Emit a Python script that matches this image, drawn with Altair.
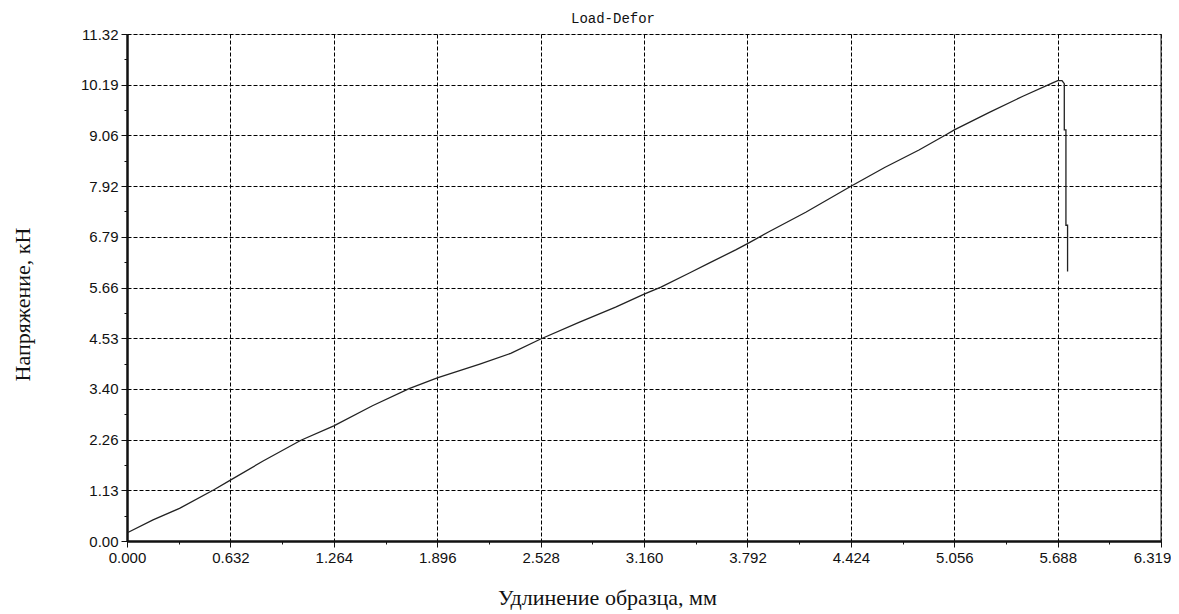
import altair as alt
import pandas as pd

# Curve (elongation, mm / load, kN)
x_mm = [0.005, 0.159, 0.321, 0.534, 0.632, 0.829, 1.063, 1.264, 1.500, 1.724,
        1.896, 2.156, 2.345, 2.528, 2.762, 2.986, 3.160, 3.263, 3.440, 3.560,
        3.720, 3.792, 3.920, 4.148, 4.424, 4.630, 4.840, 5.005, 5.056, 5.270,
        5.475, 5.657, 5.688, 5.714, 5.728, 5.728, 5.738, 5.738, 5.748, 5.748]
y_kn = [0.19, 0.47, 0.73, 1.15, 1.36, 1.78, 2.25, 2.57, 3.02, 3.40,
        3.64, 3.95, 4.19, 4.51, 4.88, 5.22, 5.51, 5.67, 5.99, 6.21,
        6.50, 6.64, 6.90, 7.34, 7.92, 8.34, 8.73, 9.07, 9.18, 9.57,
        9.93, 10.23, 10.28, 10.28, 10.21, 9.18, 9.18, 7.05, 7.05, 6.02]

x_ticks = [0.0, 0.632, 1.264, 1.896, 2.528, 3.160, 3.792, 4.424, 5.056, 5.688, 6.319]
y_ticks = [0.0, 1.132, 2.264, 3.396, 4.528, 5.66, 6.792, 7.924, 9.056, 10.188, 11.32]

chart_title = "Load-Defor"

x_minor = [(a + b) / 2 for a, b in zip(x_ticks[:-1], x_ticks[1:])]
y_minor = [(a + b) / 2 for a, b in zip(y_ticks[:-1], y_ticks[1:])]

df = pd.DataFrame({"x": x_mm, "y": y_kn, "i": list(range(len(x_mm)))})

X_MINOR = "round(datum.value/0.316) % 2 == 1"
Y_MINOR = "round(datum.value/0.566) % 2 == 1"

x_axis = alt.Axis(
    values=sorted(x_ticks + x_minor),
    labelExpr=f"{X_MINOR} ? '' : format(datum.value, '.3f')",
    labelFont="Liberation Sans", labelFontSize=15, labelColor="#111",
    labelPadding=3, labelFlush=False,
    labelOffset={"condition": {"test": "datum.value > 6.3", "value": -9}, "value": 0},
    tickSize={"condition": {"test": X_MINOR, "value": 3}, "value": 6},
    tickColor="#111", tickWidth=1,
    grid=True,
    gridOpacity={"condition": {"test": X_MINOR, "value": 0}, "value": 1},
    gridColor="#000", gridDash=[4, 2], gridWidth=1,
    domainColor="#111", domainWidth=2.5,
    title="Удлинение образца, мм",
    titleFont="Liberation Serif", titleFontSize=22, titleFontWeight="normal",
    titleColor="#111", titleX=480, titleY=63, titleBaseline="alphabetic",
    titleAlign="center",
)

y_axis = alt.Axis(
    values=sorted(y_ticks + y_minor),
    labelExpr=f"{Y_MINOR} ? '' : format(datum.value, '.2f')",
    labelFont="Liberation Sans", labelFontSize=15, labelColor="#111",
    labelPadding=3, labelFlush=False,
    tickSize={"condition": {"test": Y_MINOR, "value": 3}, "value": 6},
    tickColor="#111", tickWidth=1,
    grid=True,
    gridOpacity={"condition": {"test": Y_MINOR, "value": 0}, "value": 1},
    gridColor="#000", gridDash=[4, 2], gridWidth=1,
    domainColor="#111", domainWidth=2.5,
    title="Напряжение, кН",
    titleFont="Liberation Serif", titleFontSize=22, titleFontWeight="normal",
    titleColor="#111", titleX=-105, titleY=270, titleBaseline="middle",
    titleAlign="center", titleAngle=-90,
)

xs = alt.Scale(domain=[0, 6.319], nice=False, zero=False)
ys = alt.Scale(domain=[0, 11.32], nice=False, zero=False)

line = alt.Chart(df).mark_line(color="#222", strokeWidth=1.3).encode(
    x=alt.X("x:Q", scale=xs, axis=x_axis),
    y=alt.Y("y:Q", scale=ys, axis=y_axis),
    order="i:Q",
)

right_border = alt.Chart(pd.DataFrame({"v": [6.319]})).mark_rule(
    color="#222", strokeWidth=1
).encode(x=alt.X("v:Q", scale=xs))

title_text = alt.Chart(pd.DataFrame({"t": [chart_title]})).mark_text(
    font="Liberation Mono", fontSize=14, color="#111",
    align="center", baseline="alphabetic",
).encode(text="t:N", x=alt.value(486), y=alt.value(-11))

chart = alt.layer(line, right_border, title_text).properties(
    width=1034,
    height=507,
    autosize=alt.AutoSizeParams(type="none"),
    padding={"left": 119, "top": 26, "right": 10, "bottom": 72},
).configure_view(stroke=None).configure(background="white")

chart.save("out.html", embed_options={"renderer": "svg", "actions": False})
